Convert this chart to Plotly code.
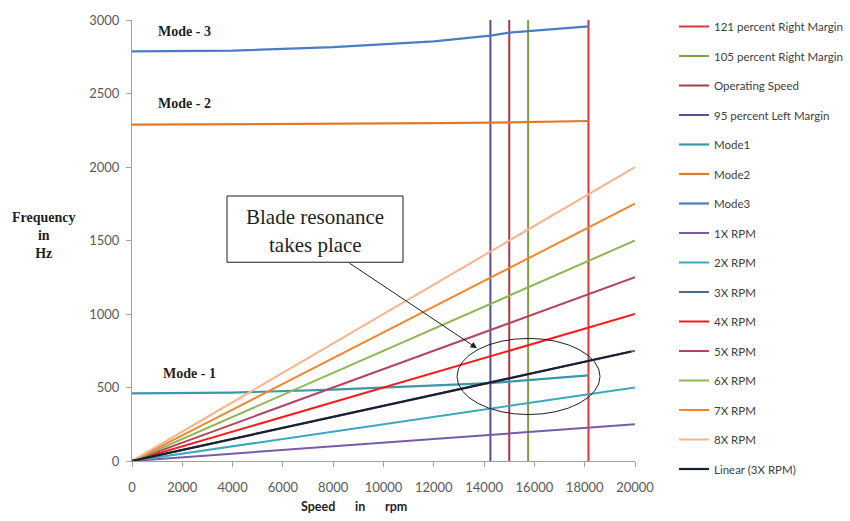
import plotly.graph_objects as go

# ---- data ----
margin_names = ["121 percent Right Margin", "105 percent Right Margin", "Operating Speed", "95 percent Left Margin"]
margin_speeds = [18150, 15750, 15000, 14250]
margin_colors = ["#D9353A", "#7DA040", "#A83A40", "#5C4F8C"]
freq_span = [0, 3000]

mode_speeds = [0, 4000, 8000, 12000, 14250, 15000, 15750, 18150]
mode1 = [460, 465, 485, 512, 530, 540, 550, 583]
mode2 = [2288, 2290, 2293, 2298, 2302, 2304, 2306, 2313]
mode3 = [2786, 2792, 2815, 2855, 2894, 2914, 2925, 2956]
mode_names = ["Mode1", "Mode2", "Mode3"]
mode_colors = ["#3A98A8", "#E07B28", "#4A7EC4"]

rpm_speeds = [0, 20000]
rpm_names = ["1X RPM", "2X RPM", "3X RPM", "4X RPM", "5X RPM", "6X RPM", "7X RPM", "8X RPM"]
rpm_values = [[0, 250], [0, 500], [0, 750], [0, 1000], [0, 1250], [0, 1500], [0, 1750], [0, 2000]]
rpm_colors = ["#7A5BA5", "#3AA8BE", "#4F6A8F", "#FF1A1A", "#B0475E", "#8DB750", "#F0862E", "#F7B48C"]

trend_speeds = [0, 19850]
trend_values = [0, 745]

x_ticks = list(range(0, 20001, 2000))
y_ticks = list(range(0, 3001, 500))

# plot-area geometry in pixels (for paper-coordinate helpers)
W, H = 850, 521
L, R, T, B = 132, 635, 15, 461
def px(x):
    return (x - L) / (R - L)
def py(y):
    return (B - y) / (B - T)

fig = go.Figure()
k = 0
def add(x, y, name, color, width=2):
    global k
    fig.add_trace(go.Scatter(x=x, y=y, mode="lines", name=name,
                             line=dict(color=color, width=width),
                             legendgroup="g%d" % k))
    k += 1

for n, s, c in zip(margin_names, margin_speeds, margin_colors):
    add([s, s], freq_span, n, c)
for n, v, c in zip(mode_names, [mode1, mode2, mode3], mode_colors):
    add(mode_speeds, v, n, c, 2.2)
for n, v, c in zip(rpm_names, rpm_values, rpm_colors):
    add(rpm_speeds, v, n, c)
add(trend_speeds, trend_values, "Linear (3X RPM)", "#1A2030", 2.2)

serif = "Liberation Serif"
sans = "Lato"

axis_common = dict(showgrid=False, zeroline=False, showline=True, linecolor="#A0A0A0",
                   linewidth=1, ticks="outside", ticklen=5, tickcolor="#A0A0A0",
                   tickformat="d", tickfont=dict(family=sans, size=13, color="#595959"))

fig.update_layout(
    width=W, height=H,
    margin=dict(l=L, r=W - R, t=T, b=H - B),
    paper_bgcolor="white", plot_bgcolor="white",
    font=dict(family=sans, size=12, color="#595959"),
    showlegend=True,
    legend=dict(xref="container", yref="container", x=674 / W, y=1 - 12 / H,
                xanchor="left", yanchor="top",
                font=dict(family=sans, size=11.5, color="#404040"),
                tracegroupgap=10.5, itemwidth=30, bgcolor="rgba(0,0,0,0)",
                maxheight=1.0),
    xaxis=dict(range=[0, 20000], tickvals=x_ticks, ticklabelstandoff=9, **axis_common),
    yaxis=dict(range=[0, 3000], tickvals=y_ticks, ticklabelstandoff=4, **axis_common),
)

dark = "#1F1F1F"
ann = []
ann.append(dict(text="<b>Frequency<br>in<br>Hz</b>", xref="paper", yref="paper",
                x=px(44), y=py(233), xanchor="center", yanchor="middle", showarrow=False,
                font=dict(family=serif, size=14, color=dark), align="center"))
for t, cx in [("Speed", 318), ("in", 360), ("rpm", 396)]:
    ann.append(dict(text="<b>%s</b>" % t, xref="paper", yref="paper",
                    x=px(cx), y=py(507), xanchor="center", yanchor="middle", showarrow=False,
                    font=dict(family=sans, size=12.5, color=dark)))
for t, xx, yy in [("Mode - 3", 2100, 2920), ("Mode - 2", 2100, 2430), ("Mode - 1", 2300, 595)]:
    ann.append(dict(text="<b>%s</b>" % t, x=xx, y=yy, showarrow=False,
                    font=dict(family=serif, size=14, color=dark)))
ann.append(dict(text="<b>3X</b>", x=20680, y=750, showarrow=False,
                font=dict(family=serif, size=15, color=dark)))
for t, cy in [("Blade resonance", 214), ("takes place", 243)]:
    ann.append(dict(text=t, xref="paper", yref="paper", x=px(315), y=py(cy),
                    xanchor="center", yanchor="middle", showarrow=False,
                    font=dict(family=serif, size=21, color=dark)))
ann.append(dict(text="", x=13718, y=767, ax=8588, ay=1353, axref="x", ayref="y",
                showarrow=True, arrowhead=2, arrowsize=1.3, arrowwidth=1, arrowcolor=dark))
fig.update_layout(annotations=ann)

fig.add_shape(type="rect", xref="paper", yref="paper", x0=px(227), x1=px(403),
              y0=py(260), y1=py(193), line=dict(color=dark, width=1), fillcolor="rgba(0,0,0,0)")
fig.add_shape(type="circle", xref="x", yref="y", x0=12923, x1=18609, y0=316, y1=834,
              line=dict(color=dark, width=1))

fig.write_html("out.html")
